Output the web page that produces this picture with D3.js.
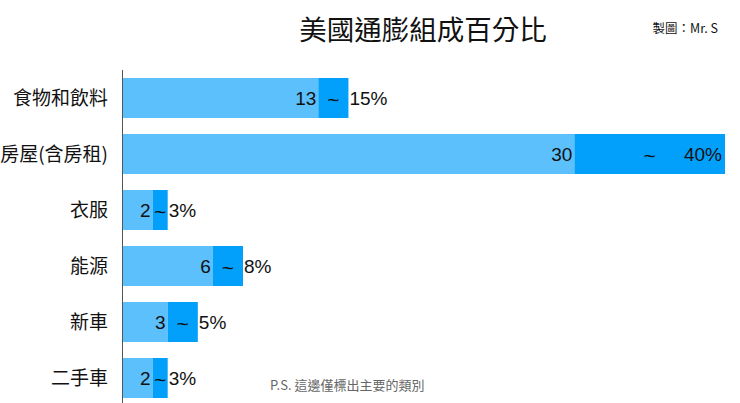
<!DOCTYPE html>
<html>
<head>
<meta charset="utf-8">
<script src="https://cdn.jsdelivr.net/npm/d3@7"></script>
<style>
  body { margin: 0; background: #fff; }
  text { font-family: "Noto Sans CJK TC", "Liberation Sans", sans-serif; }
  text.num { font-family: "Liberation Sans", "DejaVu Sans", sans-serif; }
</style>
</head>
<body>
<div class="container"></div>
<script>
var categories = ['食物和飲料', '房屋(含房租)', '衣服', '能源', '新車', '二手車']
var lowValues = [13, 30, 2, 6, 3, 2]
var highValues = [15, 40, 3, 8, 5, 3]

var width = 740
var height = 403

var svg = d3.select('.container')
  .append('svg')
    .attr('width', width)
    .attr('height', height)

var x = d3.scaleLinear()
  .domain([0, 40])
  .range([122.5, 725])

var y = d3.scaleBand()
  .domain(categories)
  .range([70, 406])
  .paddingInner(16 / 56)
  .paddingOuter(8 / 56)

var rows = categories.map(function(c, i) {
  return { name: c, lo: lowValues[i], hi: highValues[i] }
})

// title and credits
svg.append('text')
  .attr('x', 423)
  .attr('y', 40)
  .attr('text-anchor', 'middle')
  .attr('font-size', 27.5)
  .attr('fill', '#111')
  .text('美國通膨組成百分比')

svg.append('text')
  .attr('x', 718)
  .attr('y', 33)
  .attr('text-anchor', 'end')
  .attr('font-size', 12.5)
  .attr('fill', '#111')
  .text('製圖：Mr. S')

var g = svg.selectAll('.row')
  .data(rows)
  .enter()
  .append('g')
    .attr('class', 'row')

g.append('rect')
  .attr('x', x(0))
  .attr('y', function(d) { return y(d.name) })
  .attr('width', function(d) { return x(d.lo) - x(0) })
  .attr('height', y.bandwidth())
  .attr('fill', '#5bc0fc')

g.append('rect')
  .attr('x', function(d) { return x(d.lo) })
  .attr('y', function(d) { return y(d.name) })
  .attr('width', function(d) { return x(d.hi) - x(d.lo) })
  .attr('height', y.bandwidth())
  .attr('fill', '#02a0fb')

var mid = function(d) { return y(d.name) + y.bandwidth() / 2 }

g.append('text')
  .attr('x', 108)
  .attr('y', mid)
  .attr('dy', '0.35em')
  .attr('text-anchor', 'end')
  .attr('font-size', 19)
  .attr('fill', '#111')
  .text(function(d) { return d.name })

g.append('text')
  .attr('class', 'num')
  .attr('x', function(d) { return x(d.lo) - 2 })
  .attr('y', mid)
  .attr('dy', '0.36em')
  .attr('text-anchor', 'end')
  .attr('font-size', 19)
  .attr('fill', '#111')
  .text(function(d) { return d.lo })

g.append('text')
  .attr('class', 'num')
  .attr('x', function(d) { return (x(d.lo) + x(d.hi)) / 2 })
  .attr('y', mid)
  .attr('dy', '0.45em')
  .attr('text-anchor', 'middle')
  .attr('font-size', 21)
  .attr('fill', '#111')
  .text('~')

// high label goes outside the bar, unless it would run off the page
g.append('text')
  .attr('class', 'num')
  .attr('x', function(d) { return x(d.hi) + 60 > width ? x(d.hi) - 3 : x(d.hi) + 1 })
  .attr('y', mid)
  .attr('dy', '0.36em')
  .attr('text-anchor', function(d) { return x(d.hi) + 60 > width ? 'end' : 'start' })
  .attr('font-size', 19)
  .attr('fill', '#111')
  .text(function(d) { return d.hi + '%' })

// axis line
svg.append('line')
  .attr('x1', x(0))
  .attr('x2', x(0))
  .attr('y1', 70)
  .attr('y2', height)
  .attr('stroke', '#555')
  .attr('stroke-width', 1)

svg.append('text')
  .attr('x', 270)
  .attr('y', 390)
  .attr('font-size', 13)
  .attr('fill', '#666')
  .text('P.S. 這邊僅標出主要的類別')
</script>
</body>
</html>
